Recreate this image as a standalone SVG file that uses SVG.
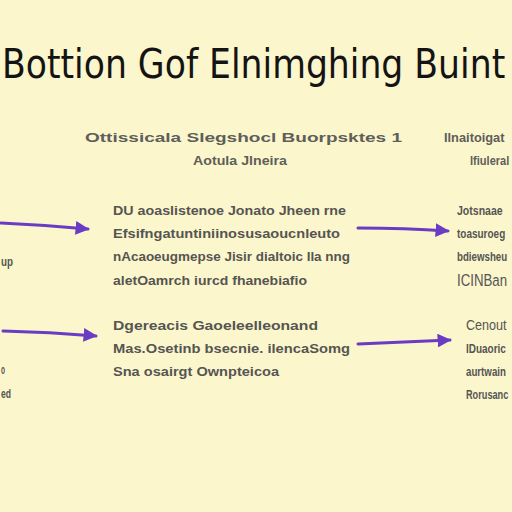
<svg xmlns="http://www.w3.org/2000/svg" width="512" height="512" viewBox="0 0 512 512">
<defs>
<marker id="ah" viewBox="0 0 10 10" refX="9" refY="5" markerWidth="4.6" markerHeight="4.6" orient="auto" markerUnits="strokeWidth">
<path d="M0,0 L10,5 L0,10 Z" fill="#6a3cc4"/>
</marker>
<style>
.title{font-family:"DejaVu Sans","Open Sans",sans-serif;font-size:41px;fill:#141414}
.sub{font-family:"Liberation Sans","DejaVu Sans",sans-serif;font-size:13.5px;font-weight:bold;fill:#5e5e5a}
.t{font-family:"Liberation Sans","DejaVu Sans",sans-serif;font-size:13.5px;font-weight:bold;fill:#555552}
.arr{stroke:#6a3cc4;stroke-width:3;fill:none;stroke-linecap:round;marker-end:url(#ah)}
</style>
</defs>
<rect width="512" height="512" fill="#fcf6cd"/>
<g id="title">
<text class="title" transform="translate(2,78) scale(0.845,1)" x="0" y="0">Bottion Gof Elnimghing Buint</text>
</g>
<g id="header">
<text class="sub" x="85" y="142" textLength="317" lengthAdjust="spacingAndGlyphs">Ottissicala Slegshocl Buorpsktes 1</text>
<text class="sub" x="193" y="165" textLength="94" lengthAdjust="spacingAndGlyphs">Aotula Jlneira</text>
<text class="sub" transform="translate(444,142) scale(0.95,1)">Ilnaitoigat</text>
<text class="sub" transform="translate(470,165) scale(0.82,1)">Ifiuleral</text>
</g>
<g id="left-edge">
<text class="t" x="1" y="266" textLength="12" lengthAdjust="spacingAndGlyphs">up</text>
<text class="t" x="1" y="374" textLength="4" lengthAdjust="spacingAndGlyphs">o</text>
<text class="t" x="1" y="398" textLength="10" lengthAdjust="spacingAndGlyphs">ed</text>
</g>
<g id="node-1">
<text class="t" x="113" y="215" textLength="233" lengthAdjust="spacingAndGlyphs">DU aoaslistenoe Jonato Jheen rne</text>
<text class="t" x="113" y="238" textLength="227" lengthAdjust="spacingAndGlyphs">Efsifngatuntiniinosusaoucnleuto</text>
<text class="t" x="113" y="261" textLength="237" lengthAdjust="spacingAndGlyphs">nAcaoeugmepse Jisir dialtoic Ila nng</text>
<text class="t" x="113" y="285" textLength="194" lengthAdjust="spacingAndGlyphs">aletOamrch iurcd fhanebiafio</text>
</g>
<g id="node-2">
<text class="t" transform="translate(457,215) scale(0.78,1)">Jotsnaae</text>
<text class="t" transform="translate(457,238) scale(0.74,1)">toasuroeg</text>
<text class="t" transform="translate(457,261) scale(0.72,1)">bdiewsheu</text>
<text class="t" transform="translate(457,286) scale(0.78,1)" style="font-size:17px;font-weight:normal">ICINBan</text>
</g>
<g id="node-3">
<text class="t" x="113" y="330" textLength="205" lengthAdjust="spacingAndGlyphs">Dgereacis Gaoeleelleonand</text>
<text class="t" x="113" y="353" textLength="237" lengthAdjust="spacingAndGlyphs">Mas.Osetinb bsecnie. ilencaSomg</text>
<text class="t" x="113" y="376" textLength="166" lengthAdjust="spacingAndGlyphs">Sna osairgt Ownpteicoa</text>
</g>
<g id="node-4">
<text class="t" transform="translate(466,330) scale(0.9,1)" style="font-size:14px;font-weight:normal">Cenout</text>
<text class="t" transform="translate(466,353) scale(0.74,1)">IDuaoric</text>
<text class="t" transform="translate(466,376) scale(0.72,1)">aurtwain</text>
<text class="t" transform="translate(466,399) scale(0.68,1)">Rorusanc</text>
</g>
<g id="connectors">
<path class="arr" d="M1,223 Q45,225 88,229"/>
<path class="arr" d="M358,228 Q405,228 448,231"/>
<path class="arr" d="M3,331 Q50,332 96,336"/>
<path class="arr" d="M358,344 Q405,342 450,340"/>
</g>
</svg>
